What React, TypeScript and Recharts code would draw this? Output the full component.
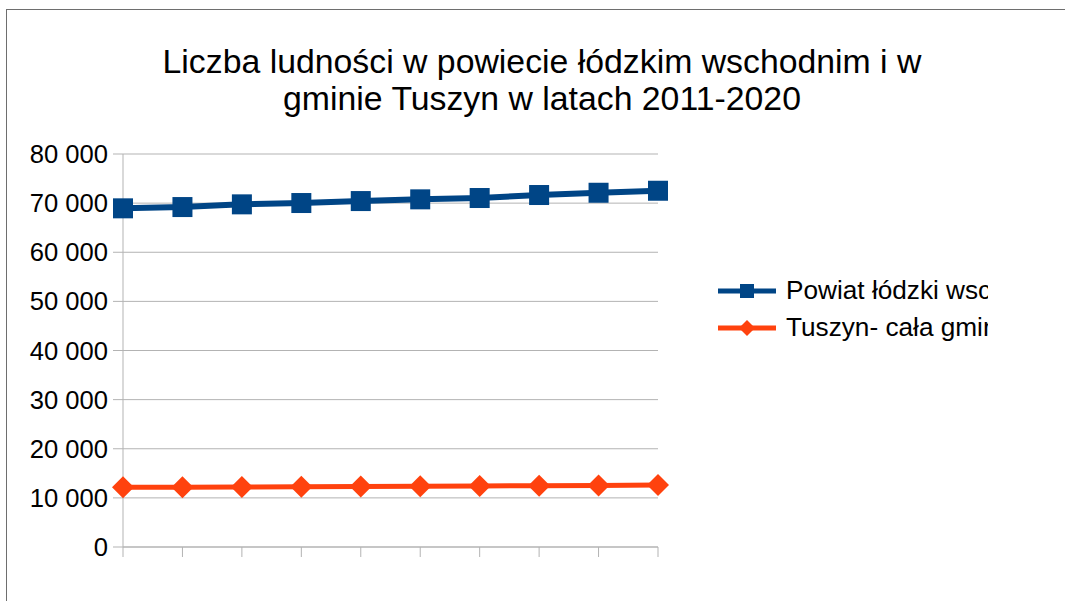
import { LineChart, Line, XAxis, YAxis, CartesianGrid } from 'recharts'

const years = ['2011', '2012', '2013', '2014', '2015', '2016', '2017', '2018', '2019', '2020']
const powiat = [68940, 69200, 69750, 70020, 70420, 70770, 71040, 71650, 72110, 72520]
const tuszyn = [12150, 12180, 12230, 12260, 12320, 12360, 12420, 12480, 12540, 12620]
const yTicks = [0, 10000, 20000, 30000, 40000, 50000, 60000, 70000, 80000]

const seriesNames = ['Powiat łódzki wschodni', 'Tuszyn- cała gmina']
const title = ['Liczba ludności w powiecie łódzkim wschodnim i w', 'gminie Tuszyn w latach 2011-2020']

const BLUE = '#004586'
const ORANGE = '#ff420e'
const GRID = '#b3b3b3'
const FONT = '"Liberation Sans", Arial, sans-serif'

const data = years.map((year, i) => ({ year, powiat: powiat[i], tuszyn: tuszyn[i] }))

function fmt(v: number) {
  return String(v).replace(/\B(?=(\d{3})+(?!\d))/g, ' ')
}

function SquareDot(props: any) {
  const { cx, cy, index } = props
  if (cx == null || cy == null) return null
  return <rect key={`s${index}`} x={cx - 10} y={cy - 10} width={20} height={20} fill={BLUE} />
}

function DiamondDot(props: any) {
  const { cx, cy, index } = props
  if (cx == null || cy == null) return null
  const r = 11
  return (
    <polygon
      key={`d${index}`}
      points={`${cx},${cy - r} ${cx + r},${cy} ${cx},${cy + r} ${cx - r},${cy}`}
      fill={ORANGE}
    />
  )
}

function LegendIcon({ color, shape }: { color: string; shape: 'square' | 'diamond' }) {
  return (
    <svg width={58} height={20} style={{ display: 'block', flexShrink: 0 }}>
      <line x1={0} y1={10} x2={58} y2={10} stroke={color} strokeWidth={5} />
      {shape === 'square' ? (
        <rect x={22} y={3} width={14} height={14} fill={color} />
      ) : (
        <polygon points="29,2 37,10 29,18 21,10" fill={color} />
      )}
    </svg>
  )
}

export default function App() {
  return (
    <div
      style={{
        position: 'absolute',
        left: 0,
        top: 0,
        width: 1065,
        height: 601,
        overflow: 'hidden',
        background: '#fff',
        fontFamily: FONT,
      }}
    >
      <div
        style={{
          position: 'absolute',
          left: 6,
          top: 9,
          width: 1100,
          height: 700,
          borderLeft: '1px solid #6e6e6e',
          borderTop: '1px solid #6e6e6e',
        }}
      />
      <div
        style={{
          position: 'absolute',
          left: 42,
          width: 1000,
          top: 43,
          textAlign: 'center',
          fontSize: 33.8,
          lineHeight: '37px',
          color: '#000',
        }}
      >
        {title.map((t) => (
          <div key={t}>{t}</div>
        ))}
      </div>

      <div style={{ position: 'absolute', left: 0, top: 0 }}>
        <LineChart width={1065} height={601} data={data} margin={{ top: 154, right: 407, bottom: 24, left: 8 }}>
          <CartesianGrid vertical={false} stroke={GRID} strokeWidth={1} />
          <XAxis
            dataKey="year"
            height={30}
            tickSize={10}
            tickLine={{ stroke: GRID }}
            axisLine={{ stroke: GRID }}
            tickFormatter={() => ''}
          />
          <YAxis
            width={115}
            domain={[0, 80000]}
            ticks={yTicks}
            tickFormatter={fmt}
            tickSize={10}
            tickMargin={5}
            tickLine={{ stroke: GRID }}
            axisLine={{ stroke: GRID }}
            tick={{ fill: '#000', fontSize: 25.6, fontFamily: FONT }}
          />
          <YAxis
            yAxisId="r"
            orientation="right"
            width={0}
            domain={[0, 80000]}
            tick={false}
            tickLine={false}
            axisLine={{ stroke: GRID }}
          />
          <Line
            dataKey="powiat"
            stroke={BLUE}
            strokeWidth={6}
            dot={SquareDot}
            activeDot={false}
            isAnimationActive={false}
          />
          <Line
            dataKey="tuszyn"
            stroke={ORANGE}
            strokeWidth={5}
            dot={DiamondDot}
            activeDot={false}
            isAnimationActive={false}
          />
        </LineChart>
      </div>

      <div style={{ position: 'absolute', left: 718, top: 272, width: 270, overflow: 'hidden' }}>
        {[
          { name: seriesNames[0], color: BLUE, shape: 'square' as const },
          { name: seriesNames[1], color: ORANGE, shape: 'diamond' as const },
        ].map((s) => (
          <div key={s.name} style={{ display: 'flex', alignItems: 'center', height: 37, whiteSpace: 'nowrap' }}>
            <LegendIcon color={s.color} shape={s.shape} />
            <span style={{ marginLeft: 10, fontSize: 26.2, color: '#000' }}>{s.name}</span>
          </div>
        ))}
      </div>
    </div>
  )
}
